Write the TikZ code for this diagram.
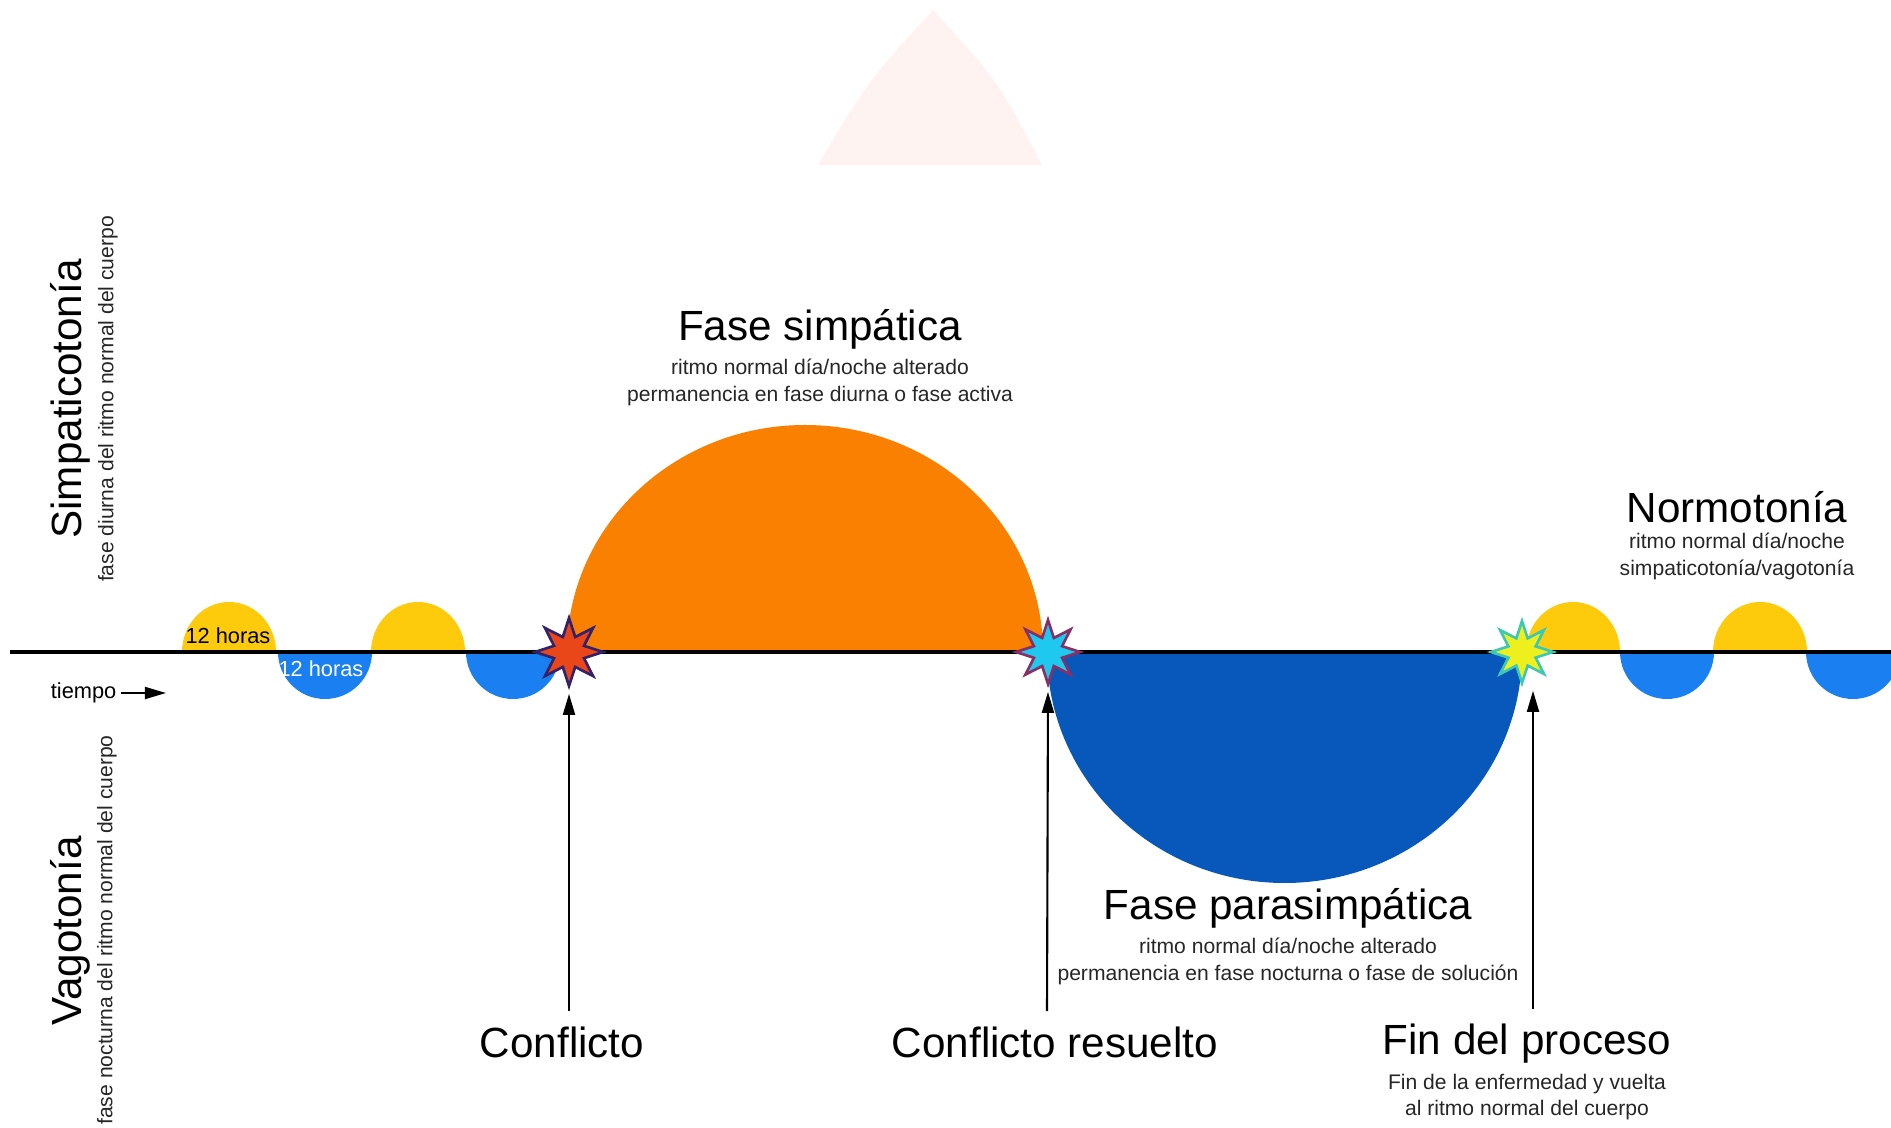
\documentclass[tikz,border=0pt]{standalone}
\usepackage{fontspec}
\setmainfont{Liberation Sans}
\usepackage{xcolor}
\usepackage{tikz}
\usetikzlibrary{shapes.geometric, arrows.meta, positioning, calc}
\definecolor{DayYellow}{HTML}{FDCB0C}
\definecolor{NightBlue}{HTML}{1A80F2}
\definecolor{SympOrange}{HTML}{F98000}
\definecolor{ParaBlue}{HTML}{0758BA}
\definecolor{PaleRose}{HTML}{FFF3F1}
\definecolor{StarRed}{HTML}{E9461A}
\definecolor{StarNavy}{HTML}{33226A}
\definecolor{StarCyan}{HTML}{1EC8EE}
\definecolor{StarPlum}{HTML}{8A2E66}
\definecolor{StarLemon}{HTML}{EEF01E}
\definecolor{StarTeal}{HTML}{3CC8B4}
\tikzset{
    daybump/.style={fill=DayYellow},
    nightbump/.style={fill=NightBlue},
    titletext/.style={font=\fontsize{12}{14}\selectfont, inner sep=0pt},
    subtext/.style={font=\fontsize{6}{7.6}\selectfont, align=center, inner sep=0pt, text=black!85},
    hourtext/.style={font=\fontsize{6.2}{7.5}\selectfont, inner sep=0pt},
    eventstar/.style={star, star points=8, star point ratio=2.1, minimum size=0.68cm,
        inner sep=0pt, line width=0.75pt},
    eventarrow/.style={-{Triangle[length=6pt, width=3.4pt]}, line width=0.6pt, shorten >=1pt},
}

\begin{document}
\begin{tikzpicture}[x=0.01cm, y=0.01cm]
    \path[use as bounding box] (0,0) rectangle (1891,1127);
    \clip (0,0) rectangle (1891,1127);

    % faint shape at the top
    \fill[PaleRose] (818,962) .. controls (868,1046) .. (933,1117)
        .. controls (998,1046) .. (1042,962) -- cycle;

    % normal day/night rhythm
    \foreach \cx in {229,418,1573,1760}
        \fill[daybump] (\cx-47,475) arc[start angle=180, end angle=0, x radius=47, y radius=50] -- cycle;
    \foreach \cx in {325,513,1667,1853}
        \fill[nightbump] (\cx-47,475) arc[start angle=180, end angle=360, x radius=47, y radius=47] -- cycle;

    % the two phases
    \fill[SympOrange] (567,475) arc[start angle=180, end angle=0, x radius=238, y radius=227] -- cycle;
    \fill[ParaBlue] (1047,475) arc[start angle=180, end angle=360, x radius=237.5, y radius=231] -- cycle;

    % time axis
    \draw[line width=1pt] (10,475) -- (1891,475);

    % events
    \node[eventstar, fill=StarRed, draw=StarNavy] (cfl) at (569,475) {};
    \node[eventstar, fill=StarCyan, draw=StarPlum, minimum size=0.64cm] (res) at (1048,475) {};
    \node[eventstar, fill=StarLemon, draw=StarTeal, minimum size=0.62cm] (fin) at (1522,475) {};

    \node[hourtext] (dayh) at (228,491) {12 horas};
    \node[hourtext, text=white] (nighth) at (321,458) {12 horas};

    \node[hourtext, anchor=east] (tiempo) at (117,434) {tiempo};
    \coordinate (tend) at (166,434);
    \draw[-{Triangle[length=6pt, width=3.4pt]}, line width=0.6pt] (tiempo.east) ++(4,0) -- (tend);

    % arrows up to the events
    \coordinate (cflbot) at (569,116);
    \coordinate (resbot) at (1047,116);
    \coordinate (finbot) at (1533,118);
    \draw[eventarrow] (cflbot) -- (cfl.south);
    \draw[eventarrow] (resbot) -- (res.south);
    \draw[eventarrow] (finbot) -- (finbot |- fin.south);

    % side labels
    \node[titletext, rotate=90] (simp) at (70,728) {Simpaticoton\'ia};
    \node[subtext, rotate=90] (simpsub) at (108,728) {fase diurna del ritmo normal del cuerpo};
    \node[titletext, rotate=90] (vago) at (70,196) {Vagoton\'ia};
    \node[subtext, rotate=90] (vagosub) at (107,197) {fase nocturna del ritmo normal del cuerpo};

    % phase titles
    \node[titletext] (fsimp) at (820,798) {Fase simp\'atica};
    \node[subtext, below=2.5pt of fsimp] {ritmo normal d\'ia/noche alterado\\permanencia en fase diurna o fase activa};
    \node[titletext] (fpara) at (1288,219) {Fase parasimp\'atica};
    \node[subtext, below=2.5pt of fpara] {ritmo normal d\'ia/noche alterado\\permanencia en fase nocturna o fase de soluci\'on};
    \node[titletext] (normo) at (1737,620) {Normoton\'ia};
    \node[subtext, below=2.5pt of normo] {ritmo normal d\'ia/noche\\simpaticoton\'ia/vagoton\'ia};

    % event titles
    \node[titletext] (tcfl) at (562,85) {Conflicto};
    \node[titletext] (tres) at (1055,85) {Conflicto resuelto};
    \node[titletext] (tfin) at (1527,83) {Fin del proceso};
    \node[subtext, below=2.5pt of tfin] {Fin de la enfermedad y vuelta\\al ritmo normal del cuerpo};
\end{tikzpicture}
\end{document}
